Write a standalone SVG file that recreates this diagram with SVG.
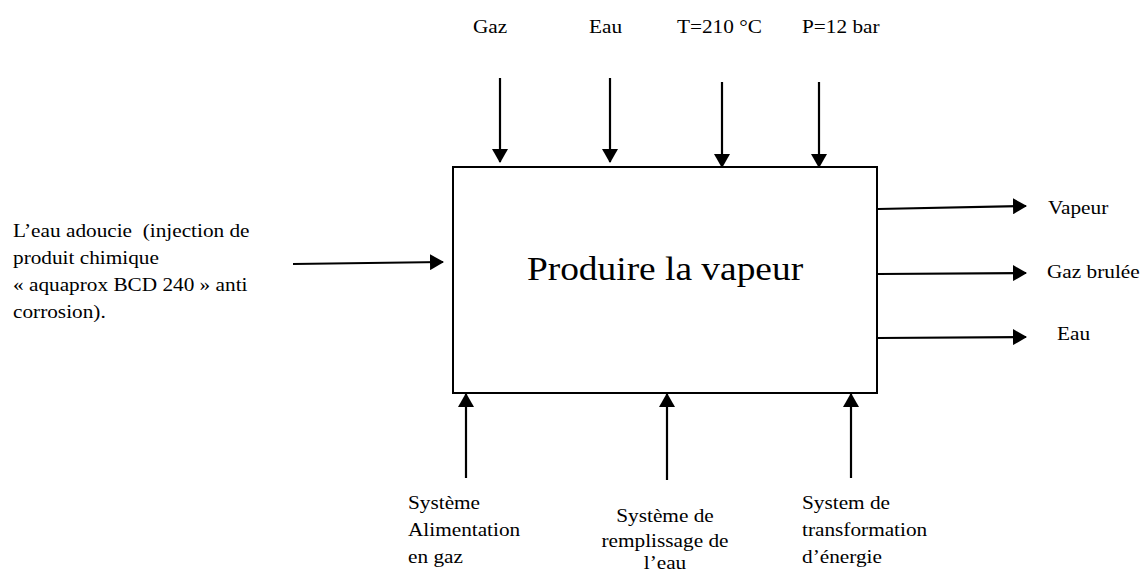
<svg xmlns="http://www.w3.org/2000/svg" width="1142" height="571" viewBox="0 0 1142 571">
  <style>
    .t { font-family: "Liberation Serif", "Times New Roman", serif; font-size: 19px; fill: #000; white-space: pre; }
    .title { font-family: "Liberation Serif", "Times New Roman", serif; font-size: 34px; fill: #000; }
    .box { fill: #fff; stroke: #000; stroke-width: 2; }
    .arrow { stroke: #000; stroke-width: 2.2; fill: none; marker-end: url(#head); }
  </style>
  <defs>
    <marker id="head" viewBox="0 0 14 16" refX="13" refY="8" markerWidth="14" markerHeight="16" markerUnits="userSpaceOnUse" orient="auto">
      <path d="M0,0 L14,8 L0,16 Z" fill="#000"/>
    </marker>
  </defs>
  <rect width="1142" height="571" fill="#fff"/>

  <!-- central activity; text is set slightly wide, like the source typeface -->
  <g id="activity">
    <rect class="box" x="453" y="167" width="424" height="226"/>
    <text class="title" transform="translate(665,280) scale(1.1,1)" text-anchor="middle">Produire la vapeur</text>
  </g>

  <!-- controls (top) -->
  <g id="ctrl-gaz"><text class="t" transform="translate(473,33) scale(1.12,1)">Gaz</text></g>
  <g id="ctrl-eau"><text class="t" transform="translate(589,33) scale(1.12,1)">Eau</text></g>
  <g id="ctrl-temp"><text class="t" transform="translate(677,33) scale(1.12,1)">T=210 °C</text></g>
  <g id="ctrl-press"><text class="t" transform="translate(802,33) scale(1.12,1)">P=12 bar</text></g>

  <!-- input (left) -->
  <g id="input-eau" transform="translate(13,0) scale(1.12,1)">
    <text class="t" x="0" y="237" xml:space="preserve">L’eau adoucie  (injection de</text>
    <text class="t" x="0" y="264">produit chimique</text>
    <text class="t" x="0" y="291">« aquaprox BCD 240 » anti</text>
    <text class="t" x="0" y="318">corrosion).</text>
  </g>

  <!-- outputs (right) -->
  <g id="out-vapeur"><text class="t" transform="translate(1048,214) scale(1.12,1)">Vapeur</text></g>
  <g id="out-gaz"><text class="t" transform="translate(1047,278) scale(1.12,1)">Gaz brulée</text></g>
  <g id="out-eau"><text class="t" transform="translate(1057,340) scale(1.12,1)">Eau</text></g>

  <!-- mechanisms (bottom) -->
  <g id="mech-gaz" transform="translate(408,0) scale(1.12,1)">
    <text class="t" x="0" y="509">Système</text>
    <text class="t" x="0" y="536">Alimentation</text>
    <text class="t" x="0" y="563">en gaz</text>
  </g>
  <g id="mech-eau" transform="translate(665,0) scale(1.12,1)">
    <text class="t" x="0" y="522" text-anchor="middle">Système de</text>
    <text class="t" x="0" y="547" text-anchor="middle">remplissage de</text>
    <text class="t" x="0" y="569" text-anchor="middle">l’eau</text>
  </g>
  <g id="mech-energie" transform="translate(802,0) scale(1.12,1)">
    <text class="t" x="0" y="509">System de</text>
    <text class="t" x="0" y="536">transformation</text>
    <text class="t" x="0" y="563">d’énergie</text>
  </g>

  <!-- connectors -->
  <g id="connectors">
    <line class="arrow" x1="500" y1="78" x2="500" y2="162"/>
    <line class="arrow" x1="610" y1="78" x2="610" y2="162"/>
    <line class="arrow" x1="722" y1="82" x2="722" y2="167"/>
    <line class="arrow" x1="819" y1="82" x2="819" y2="167"/>
    <line class="arrow" x1="293" y1="264" x2="443" y2="262"/>
    <line class="arrow" x1="878" y1="209" x2="1026" y2="206"/>
    <line class="arrow" x1="878" y1="274" x2="1026" y2="273"/>
    <line class="arrow" x1="878" y1="338" x2="1026" y2="337"/>
    <line class="arrow" x1="466" y1="478" x2="466" y2="394"/>
    <line class="arrow" x1="667" y1="480" x2="667" y2="394"/>
    <line class="arrow" x1="851" y1="478" x2="851" y2="394"/>
  </g>
</svg>
